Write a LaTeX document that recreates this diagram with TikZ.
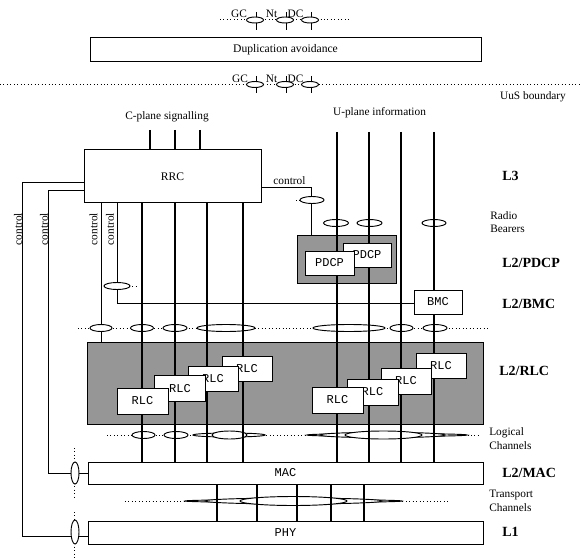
\documentclass[tikz,border=0pt]{standalone}
\usepackage{fontspec}
\setmainfont{Liberation Serif}
\setmonofont{Liberation Mono}
\definecolor{midgray}{RGB}{150,150,150}
\pgfdeclarelayer{graylayer}
\pgfdeclarelayer{dotlayer}
\pgfdeclarelayer{elllayer}
\pgfdeclarelayer{boxlayer}
\pgfsetlayers{graylayer,dotlayer,elllayer,main,boxlayer}
\newcommand\ELLI[4]{\draw[ellst] (#1,#2) ellipse [x radius=#3*0.75pt, y radius=#4*0.75pt];}
\begin{document}
\begin{tikzpicture}[x=0.75pt,y=-0.75pt,
  thk/.style={line width=2.2pt},
  thn/.style={line width=0.75pt},
  dts/.style={dotted, line width=0.6pt},
  ellst/.style={draw, fill=white, line width=0.7pt},
  bxs/.style 2 args={minimum width=#1*0.75pt, minimum height=#2*0.75pt},
  wbox/.style={draw, fill=white, line width=0.75pt, inner sep=0pt, font=\fontsize{9}{10}\selectfont\ttfamily},
  rbox/.style={draw, fill=white, line width=0.75pt, inner sep=0pt, font=\fontsize{8.7}{10}\selectfont\rmfamily},
  gbox/.style={draw=black, fill=midgray, line width=0.6pt, inner sep=0pt},
  lbl/.style={font=\fontsize{8.5}{10}\selectfont, inner sep=0pt},
  lbw/.style={lbl, anchor=west},
  lay/.style={font=\fontsize{10.5}{12}\selectfont\bfseries, anchor=west, inner sep=0pt}
]
\useasboundingbox (0,0) rectangle (580,559);

% ---------- grey background boxes ----------
\begin{pgfonlayer}{graylayer}
\node[gbox, bxs={99}{48}] (pdcpg) at (346.5,259) {};
\node[gbox, bxs={396}{82}] (rlcg) at (285,383) {};
\end{pgfonlayer}

% ---------- white boxes ----------
\begin{pgfonlayer}{boxlayer}
\node[rbox, bxs={391}{24}] (dup) at (285.5,50) {Duplication avoidance};
\node[rbox, bxs={177}{53}] (rrc) at (172.5,176.5) {RRC};
\node[wbox, bxs={48}{24}] (pdcpb) at (367,255) {PDCP};
\node[wbox, bxs={49}{24}] (pdcpa) at (329.5,263) {PDCP};
\node[wbox, bxs={48}{24}] (bmc) at (438,302) {BMC};
\node[wbox, bxs={50}{25}] (rlcl4) at (247,368.5) {RLC};
\node[wbox, bxs={50}{25}] (rlcl3) at (213,379) {RLC};
\node[wbox, bxs={51}{26}] (rlcl2) at (180,388.5) {RLC};
\node[wbox, bxs={51}{26}] (rlcl1) at (142.5,401) {RLC};
\node[wbox, bxs={50}{25}] (rlcr4) at (441,366) {RLC};
\node[wbox, bxs={50}{26}] (rlcr3) at (406,381) {RLC};
\node[wbox, bxs={51}{26}] (rlcr2) at (372.5,392) {RLC};
\node[wbox, bxs={51}{26}] (rlcr1) at (337.5,400) {RLC};
\node[wbox, bxs={395}{22}] (mac) at (285.5,473) {MAC};
\node[wbox, bxs={395}{23}] (phy) at (285.5,532.5) {PHY};
\end{pgfonlayer}

% ---------- dotted lines and thin control lines ----------
\coordinate (k1) at (22,183);
\coordinate (k1b) at (22,536);
\coordinate (k2) at (48,191);
\coordinate (k2b) at (48,473);
\coordinate (k3) at (101,0);
\coordinate (k4) at (117,303);
\coordinate (k5) at (311,188);
\begin{pgfonlayer}{dotlayer}
\draw[dts] (220,19) -- (350,19);
\draw[dts] (0,84) -- (580,84);
\draw[dts] (78,328) -- (490,328);
\draw[dts] (107,435) -- (478,435);
\draw[dts] (125,501) -- (450,501);
\draw[dts] (74,448) -- (74,497);
\draw[dts] (74,512) -- (74,559);
\draw[dts] (129,286) -- (137,286);
\draw[dts] (296,200) -- (301,200);
\draw[thn] (rrc.west |- k1) -- (k1) -- (k1b) -- (phy.west |- k1b);
\draw[thn] (rrc.west |- k2) -- (k2) -- (k2b) -- (mac.west |- k2b);
\draw[thn] (k3 |- rrc.south) -- (k3 |- rlcg.north);
\draw[thn] (k4 |- rrc.south) -- (k4) -- (bmc.west |- k4);
\draw[thn] (rrc.east |- k5) -- (k5) -- (k5 |- pdcpg.north);
\foreach \xx in {256,286,311} {
  \draw[thn] (\xx,12) -- (\xx,30);
  \draw[thn] (\xx,76) -- (\xx,93);
}
\end{pgfonlayer}

% ---------- ellipses ----------
\begin{pgfonlayer}{elllayer}
\ELLI{255}{20}{8.5}{3} \ELLI{285}{20}{8.5}{3} \ELLI{310}{20}{8.5}{3}
\ELLI{255}{84.5}{8.5}{3} \ELLI{285}{84.5}{8.5}{3} \ELLI{310}{84.5}{8.5}{3}
\ELLI{336}{223}{12.5}{3.5} \ELLI{369.5}{223}{12.5}{3.5} \ELLI{434}{223}{12}{3.5}
\ELLI{312}{200}{12}{3.5} \ELLI{117}{286}{13}{3.5}
\ELLI{101}{328}{11}{3.5} \ELLI{142}{328}{11.5}{3.5} \ELLI{175}{328}{12}{3.5}
\ELLI{226}{328}{29}{3.5} \ELLI{349}{328}{36}{3.5}
\ELLI{401.5}{328}{11.5}{3.5} \ELLI{435}{328}{12}{3.5}
\ELLI{143.5}{435}{11.5}{3.5} \ELLI{176}{435}{12}{3.5}
\ELLI{229}{435}{36}{2} \ELLI{229.5}{435}{17.5}{4}
\ELLI{387}{435}{80}{1.5} \ELLI{382.5}{435}{62.5}{2.7} \ELLI{383.5}{435}{38.5}{4}
\ELLI{293.5}{501}{108.5}{1.5} \ELLI{293.5}{501}{88.5}{3} \ELLI{293.5}{501}{53.5}{4.5}
\ELLI{75}{473}{4}{11} \ELLI{75}{532}{4}{12}
\end{pgfonlayer}

% ---------- thick channel lines ----------
\foreach \n/\xx in {1/150,2/175,3/200} {
  \coordinate (cp\n) at (\xx,130);
  \draw[thk] (cp\n) -- (cp\n |- rrc.north);
}
\foreach \n/\xx in {1/142,2/175,3/207,4/243} {
  \coordinate (cl\n) at (\xx,0);
  \draw[thk] (cl\n |- rrc.south) -- (cl\n |- mac.north);
}
\foreach \n/\xx in {1/337,2/369,3/401,4/434} {
  \coordinate (up\n) at (\xx,132);
  \draw[thk] (up\n) -- (up\n |- mac.north);
}
\foreach \n/\xx in {1/217,2/257,3/297,4/331,5/364} {
  \coordinate (tr\n) at (\xx,0);
  \draw[thk] (tr\n |- mac.south) -- (tr\n |- phy.north);
}

% ---------- labels ----------
\node[lbl] (gc1) at (239,14) {GC};
\node[lbl] (nt1) at (271.5,14) {Nt};
\node[lbl] (dc1) at (295.5,14) {DC};
\node[lbl] (gc2) at (240,79) {GC};
\node[lbl] (nt2) at (271.5,79) {Nt};
\node[lbl] (dc2) at (295.5,79) {DC};
\node[lbl] (uus) at (533,97) {UuS boundary};
\node[lbl] (cpl) at (167,117) {C-plane signalling};
\node[lbl] (upl) at (379.5,113) {U-plane information};
\node[lbl] (ctlr) at (289.5,181) {control};
\node[lbl, rotate=90] (ctl1) at (18,229) {control};
\node[lbl, rotate=90] (ctl2) at (44,229) {control};
\node[lbl, rotate=90] (ctl3) at (93.5,229) {control};
\node[lbl, rotate=90] (ctl4) at (110,229) {control};
\node[lbw] (rb1) at (490,216) {Radio};
\node[lbw] (rb2) at (490,229) {Bearers};
\node[lbw] (lc1) at (489,433) {Logical};
\node[lbw] (lc2) at (489,446) {Channels};
\node[lbw] (tc1) at (489,495) {Transport};
\node[lbw] (tc2) at (489,508) {Channels};
\node[lay] (l3) at (502,176) {L3};
\node[lay] (l2p) at (502,263) {L2/PDCP};
\node[lay] (l2b) at (502,304) {L2/BMC};
\node[lay] (l2r) at (499,371) {L2/RLC};
\node[lay] (l2m) at (502,473) {L2/MAC};
\node[lay] (l1) at (502,532) {L1};
\end{tikzpicture}
\end{document}
